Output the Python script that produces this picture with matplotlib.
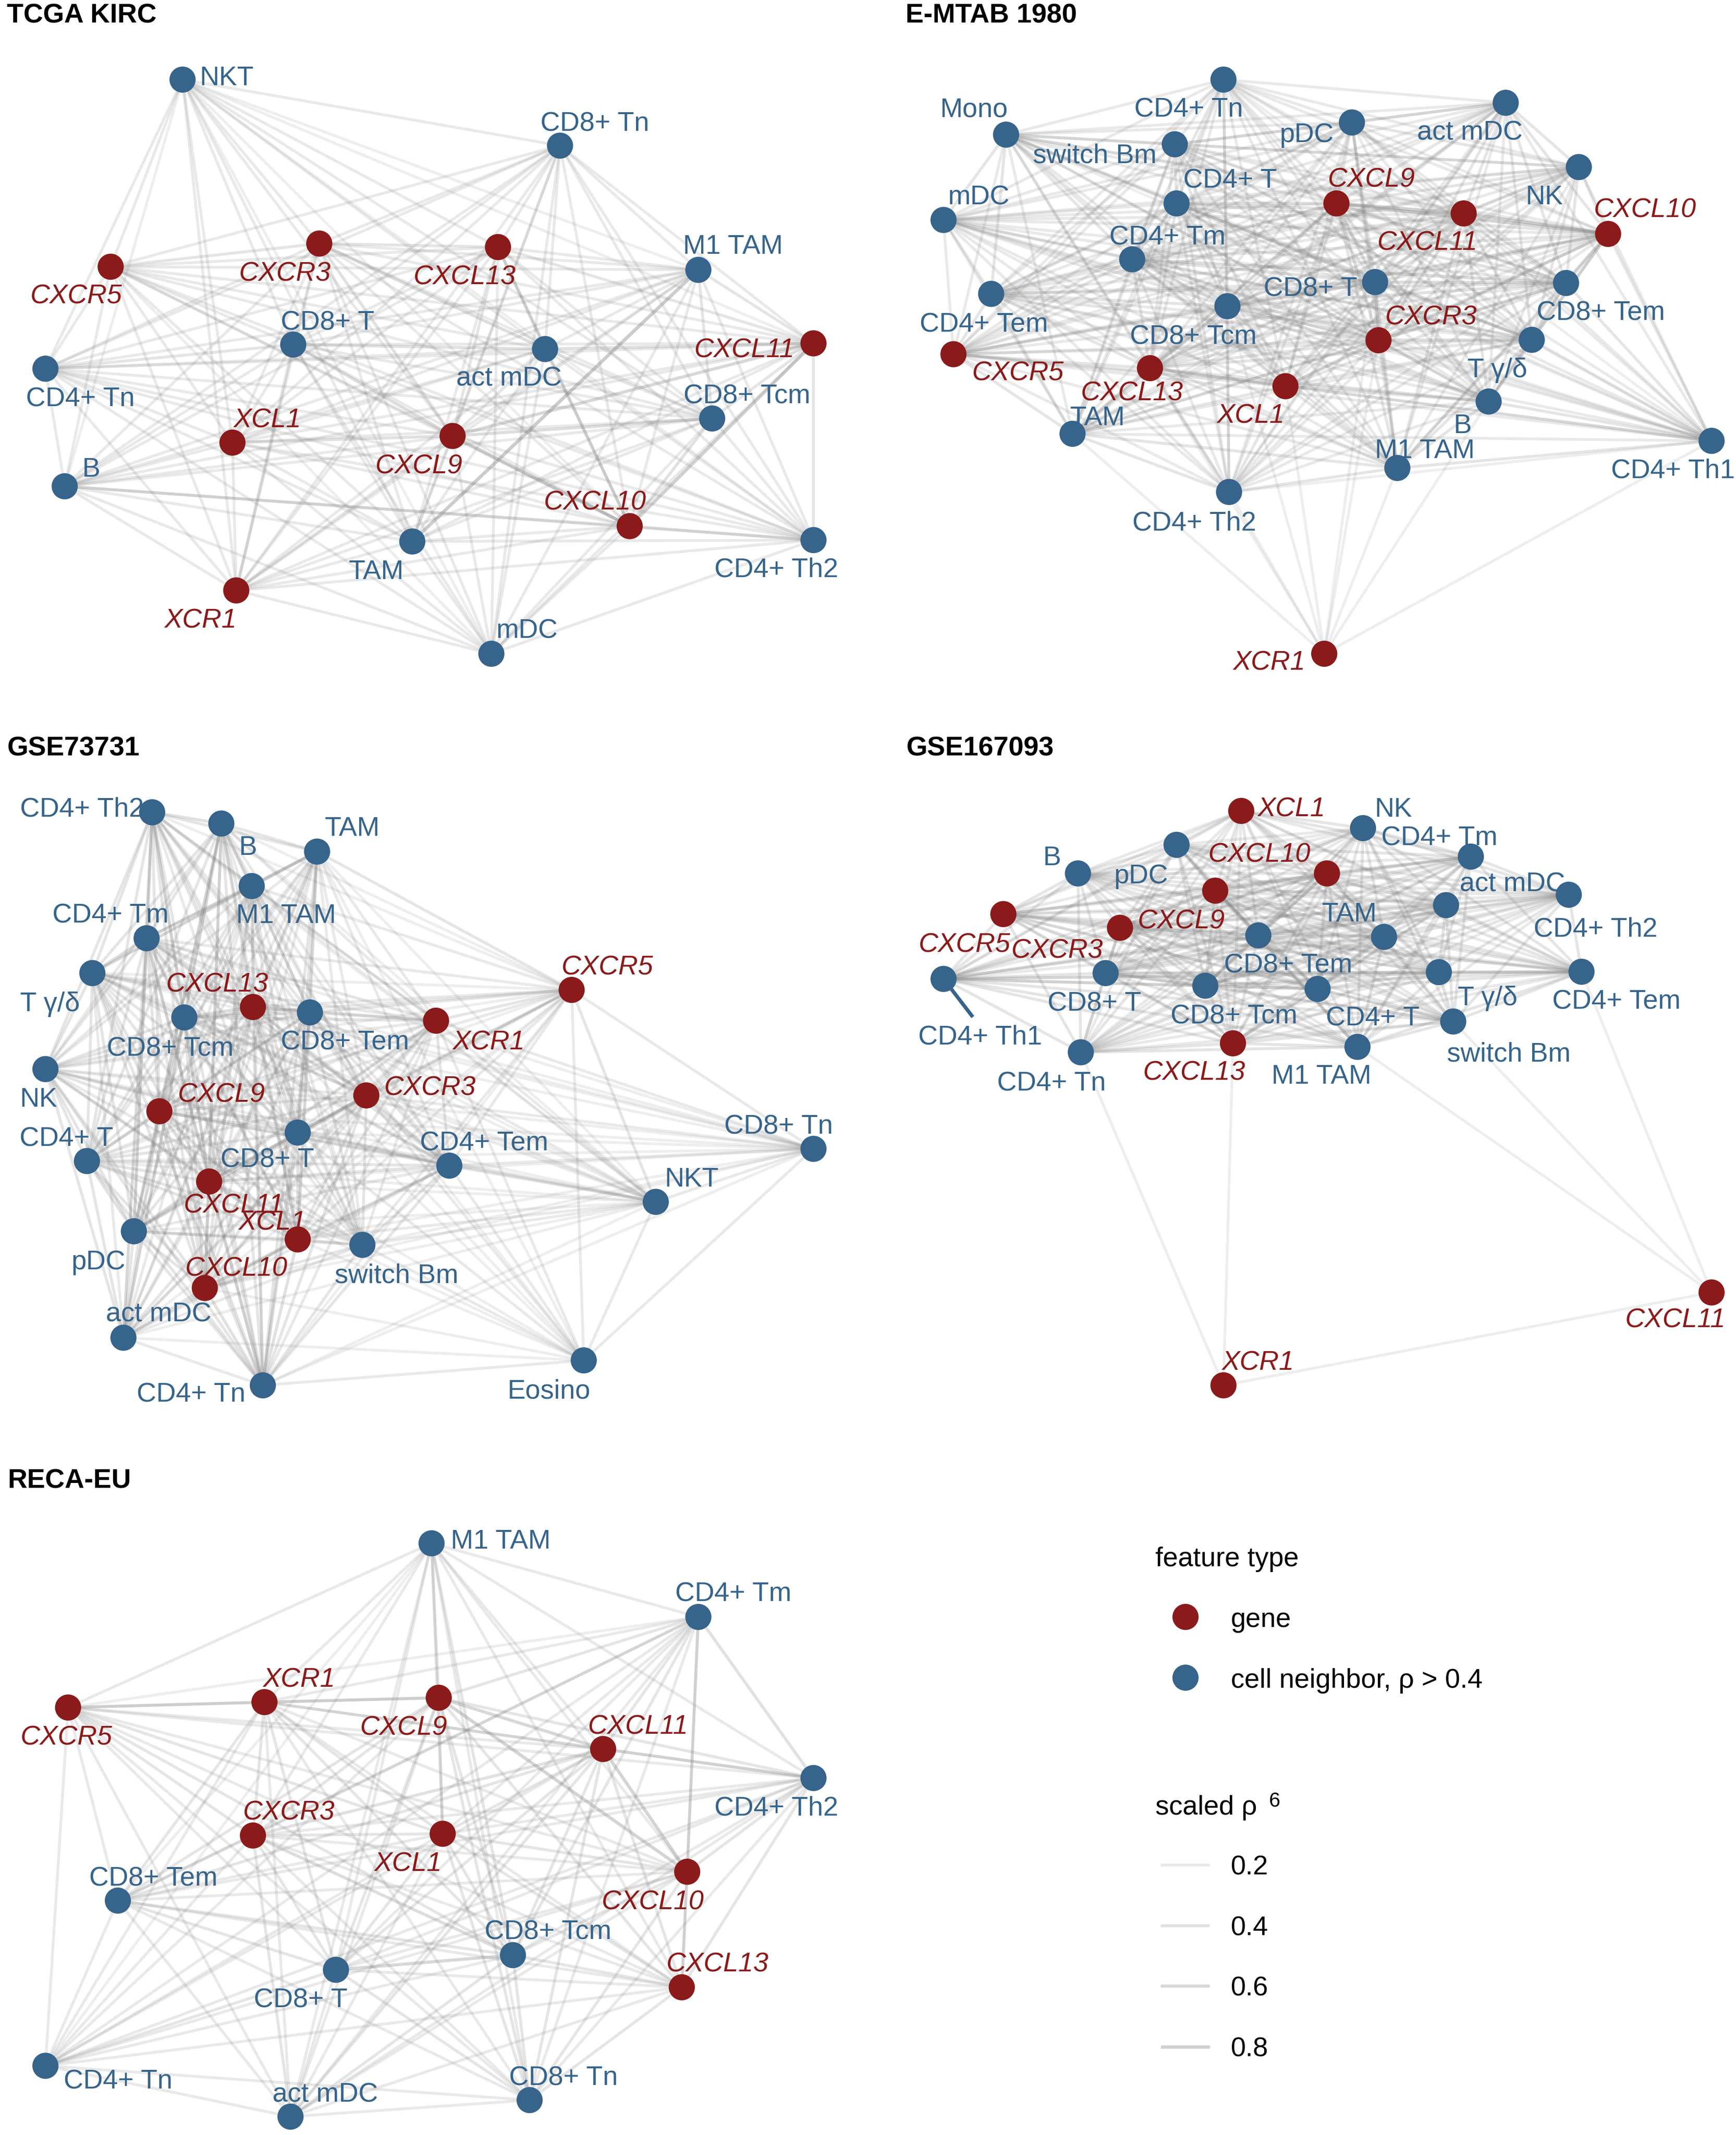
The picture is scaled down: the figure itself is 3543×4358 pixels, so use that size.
import matplotlib
matplotlib.use("Agg")
import matplotlib.pyplot as plt
from matplotlib.collections import LineCollection

plt.rcParams["font.family"] = ["Liberation Sans", "DejaVu Sans"]

# ─────────────────────────────────────────────────────────────────────────────
# Data: layout coordinates of every node and the scaled rho^6 between nodes.
# rho rows: row i holds one digit per later node j > i (digit / 10 = weight,
# 0 = no visible edge).
# ─────────────────────────────────────────────────────────────────────────────

GENES = ["CXCL9", "CXCL10", "CXCL11", "CXCL13", "CXCR3", "CXCR5", "XCL1", "XCR1"]

TCGA_NODES = ["NKT", "CD8+ Tn", "CXCR5", "CXCR3", "CXCL13", "M1 TAM", "CD8+ T",
              "act mDC", "CXCL11", "CD4+ Tn", "CD8+ Tcm", "XCL1", "CXCL9", "B",
              "CXCL10", "TAM", "CD4+ Th2", "XCR1", "mDC"]
TCGA_X = [134.6, 412.9, 81.6, 235.4, 367.2, 514.9, 216.2, 401.9, 599.8, 33.5,
          525.1, 171.4, 333.7, 47.7, 464.3, 304.0, 599.8, 174.2, 362.3]
TCGA_Y = [58.7, 107.4, 196.7, 179.6, 182.2, 199.0, 254.1, 257.4, 253.2, 271.9,
          308.6, 326.4, 321.5, 358.6, 388.0, 399.3, 398.3, 435.4, 482.1]
TCGA_RHO = ["222212212222112121", "22222222222222222", "3222222222222221",
            "322522224222222", "22432223242222", "2232322229222",
            "423225222242", "42323242222", "2326282322", "222222222",
            "25242222", "4222222", "282232", "32322", "2322", "222", "22", "2"]

EMTAB_NODES = ["CD4+ Tn", "act mDC", "Mono", "switch Bm", "pDC", "NK", "CD4+ T",
               "CXCL9", "CXCL11", "CXCL10", "mDC", "CD4+ Tm", "CD4+ Tem",
               "CD8+ T", "CD8+ Tem", "CD8+ Tcm", "CXCR3", "T γ/δ", "CXCR5",
               "CXCL13", "XCL1", "B", "TAM", "M1 TAM", "CD4+ Th1", "CD4+ Th2",
               "XCR1"]
EMTAB_X = [902.1, 1110.2, 741.8, 866.2, 996.8, 1164.1, 867.5, 985.4, 1079.2,
           1185.7, 695.7, 834.8, 730.8, 1013.9, 1154.7, 905.0, 1016.4, 1129.4,
           703.0, 847.9, 947.8, 1097.6, 790.8, 1030.3, 1262.0, 906.2, 976.4]
EMTAB_Y = [58.7, 75.8, 99.3, 106.4, 90.3, 123.2, 150.0, 150.0, 157.4, 172.5,
           162.2, 191.2, 216.7, 208.0, 208.7, 225.8, 250.9, 250.6, 261.2, 271.5,
           284.8, 296.1, 319.9, 345.1, 325.1, 362.8, 482.1]
EMTAB_RHO = ["22222322223222322222222120", "2233233322233233222222220",
             "322222233322222222222120", "32322223222322222222120",
             "3233222232232222222220", "233322233233222222220",
             "43324334333232222220", "8723254353233323220",
             "823255354233323220", "23245354233323320", "3322322222222120",
             "345443333323220", "33332332232220", "5444233323221",
             "444233323320", "53343333231", "5334333221", "233423320",
             "33232220", "4333231", "333231", "23321", "3231", "331", "11", "1"]

GSE73_NODES = ["CD4+ Th2", "B", "TAM", "M1 TAM", "CD4+ Tm", "T γ/δ", "CXCL13",
               "CD8+ Tem", "CD8+ Tcm", "XCR1", "CXCR5", "NK", "CXCL9", "CXCR3",
               "CD4+ T", "CD8+ T", "CD4+ Tem", "CD8+ Tn", "NKT", "CXCL11",
               "XCL1", "pDC", "switch Bm", "CXCL10", "act mDC", "Eosino",
               "CD4+ Tn"]
GSE73_X = [112.2, 163.2, 233.8, 185.6, 108.1, 68.1, 186.5, 228.5, 135.9, 321.5,
           421.5, 33.5, 117.5, 270.1, 64.1, 219.5, 331.3, 599.8, 483.5, 154.2,
           219.5, 98.7, 267.2, 151.0, 91.0, 430.4, 193.8]
GSE73_Y = [599.0, 607.3, 628.0, 653.4, 691.9, 717.6, 742.6, 746.6, 750.3, 752.7,
           730.0, 788.4, 819.5, 807.8, 856.2, 835.2, 859.6, 847.2, 886.3, 871.3,
           914.0, 908.0, 918.0, 949.8, 986.5, 1003.2, 1021.6]
GSE73_RHO = ["43333333213323320132323203", "3333333212323320133323203",
             "532332232222320122222213", "43333222323320132223203",
             "5334323333331133323213", "334213323321133323203",
             "55323333431133323213", "4333333431233333213",
             "323433431133323303", "32332332223222222", "1221222322121121",
             "323321133323303", "34431254335314", "3532233333223",
             "331133433303", "31234333324", "2333233223", "211011021",
             "12121121", "4335314", "334314", "33303", "3223", "314", "12", "2"]

GSE167_NODES = ["XCL1", "NK", "CD4+ Tm", "pDC", "B", "CXCL10", "CXCL9",
                "CD4+ Th2", "act mDC", "CXCR5", "CXCR3", "CD8+ Tem", "TAM",
                "T γ/δ", "CD4+ Tem", "CD4+ Th1", "CD8+ T", "CD8+ Tcm", "CD4+ T",
                "switch Bm", "CD4+ Tn", "CXCL13", "M1 TAM", "XCR1", "CXCL11"]
GSE167_X = [915.2, 1005.0, 1084.5, 867.5, 794.8, 978.4, 896.0, 1156.7, 1066.2,
            739.8, 825.8, 927.8, 1020.5, 1060.9, 1166.1, 695.7, 815.2, 888.7,
            971.5, 1071.5, 796.9, 909.1, 1000.9, 902.1, 1262.0]
GSE167_Y = [598.0, 610.7, 631.7, 623.0, 644.1, 644.1, 656.8, 659.8, 667.5,
            674.1, 684.2, 689.8, 690.9, 716.9, 716.6, 721.9, 717.6, 726.9,
            729.3, 753.3, 776.0, 769.4, 772.0, 1021.6, 953.1]
GSE167_RHO = ["333233222233222222222200", "32233332233332233322300",
              "3243332333332333322300", "333232343322333223200",
              "23223332223332232200", "5332454332444323300",
              "233454332443333300", "32233332233322200", "2334332333323300",
              "332223332232200", "43333543333300", "4332444333300",
              "332344323400", "32333423300", "3333322301", "333333300",
              "54334300", "4333300", "333300", "23301", "3310", "310", "01", "1"]

RECA_NODES = ["M1 TAM", "CD4+ Tm", "CXCR5", "XCR1", "CXCL9", "CXCL11", "CD4+ Th2",
              "CXCR3", "XCL1", "CXCL10", "CD8+ Tem", "CD8+ Tcm", "CXCL13",
              "CD8+ T", "CD4+ Tn", "act mDC", "CD8+ Tn"]
RECA_X = [318.2, 514.9, 50.2, 195.0, 323.5, 444.7, 599.8, 186.5, 326.4, 506.7,
          86.9, 378.2, 502.7, 247.7, 33.5, 214.2, 390.5]
RECA_Y = [1138.1, 1192.4, 1259.2, 1255.2, 1252.0, 1289.8, 1311.2, 1353.6,
          1352.3, 1380.3, 1401.6, 1441.8, 1465.5, 1452.6, 1523.4, 1560.9, 1548.7]
RECA_RHO = ["2223222321322122", "123343232332222", "43223322322222",
            "4323323323222", "633373333223", "44373333233", "2232232222",
            "323523232", "32333223", "2332223", "323222", "36233", "2223",
            "323", "22", "2"]

LEGEND_TYPES = ["gene", "cell neighbor, ρ > 0.4"]
LEGEND_RHO = [0.2, 0.4, 0.6, 0.8]

# ─────────────────────────────────────────────────────────────────────────────
# Label placement (repelled text centres, same units as the layout)
# ─────────────────────────────────────────────────────────────────────────────

TCGA_LX = [167.3, 438.6, 56.3, 210.1, 342.7, 540.6, 241.5, 375.4, 548.8, 59.2,
           550.8, 197.1, 308.9, 67.3, 438.6, 277.4, 572.4, 147.7, 388.4]
TCGA_LY = [55.5, 89.3, 216.7, 200.0, 202.5, 180.0, 236.1, 277.4, 256.4, 292.5,
           290.3, 308.0, 341.9, 344.4, 368.6, 419.9, 418.3, 455.7, 463.4]

EMTAB_LX = [876.4, 1083.7, 718.1, 807.1, 963.3, 1138.8, 907.0, 1011.1, 1052.7,
            1213.0, 721.4, 860.9, 725.5, 966.2, 1180.4, 879.7, 1055.1, 1104.1,
            750.8, 834.8, 922.1, 1078.4, 809.1, 1050.7, 1233.4, 880.5, 935.6]
EMTAB_LY = [79.0, 96.1, 79.0, 112.9, 97.4, 143.5, 131.3, 130.6, 177.4, 153.2,
            143.5, 173.2, 237.7, 211.2, 229.0, 246.7, 232.2, 270.9, 273.5, 288.0,
            304.8, 312.2, 306.4, 330.6, 345.1, 383.8, 487.0]

GSE73_LX = [60.4, 182.8, 259.9, 210.9, 81.6, 36.7, 160.3, 254.2, 125.7, 360.3,
            448.0, 28.6, 163.2, 317.0, 49.0, 197.1, 357.0, 574.1, 510.0, 172.6,
            200.7, 72.6, 292.5, 174.2, 117.1, 404.7, 140.8]
GSE73_LY = [595.0, 623.4, 609.0, 673.5, 673.1, 738.3, 724.3, 767.0, 771.7,
            767.0, 711.6, 808.8, 805.4, 800.4, 837.9, 853.6, 841.2, 828.8, 867.9,
            887.0, 899.7, 928.7, 938.8, 933.7, 967.5, 1024.0, 1026.6]

GSE167_LX = [951.9, 1027.4, 1061.3, 841.4, 775.7, 928.7, 871.1, 1176.3, 1115.1,
             711.2, 779.7, 949.9, 994.8, 1096.8, 1191.8, 722.6, 807.1, 909.9,
             1012.3, 1112.3, 775.3, 880.5, 974.4, 927.4, 1235.5]
GSE167_LY = [595.0, 595.0, 616.3, 644.1, 630.7, 628.4, 677.5, 683.2, 650.1,
             694.9, 699.2, 710.2, 672.5, 734.3, 737.0, 762.7, 738.3, 747.6,
             749.3, 775.4, 797.1, 789.4, 792.1, 1003.2, 971.5]
GSE167_SEGMENTS = {"CD4+ Th1": (717.3, 750.0)}

RECA_LX = [369.2, 540.6, 49.0, 220.3, 297.8, 470.4, 572.4, 213.0, 300.7, 481.4,
           113.0, 403.9, 529.2, 221.5, 86.9, 239.9, 415.3]
RECA_LY = [1134.8, 1173.7, 1279.6, 1236.8, 1272.4, 1271.4, 1331.6, 1334.9,
           1372.7, 1400.7, 1383.5, 1423.0, 1446.7, 1473.0, 1533.2, 1542.8, 1530.6]

# ─────────────────────────────────────────────────────────────────────────────
# Styling
# ─────────────────────────────────────────────────────────────────────────────

W_UNITS = 1280.0
H_UNITS = W_UNITS * 4358 / 3543
RED = "#8B1A1A"
BLUE = "#36648B"
FS = 13.3
CAP_HALF = 7.2
NODE_S = 164


def edge_style(w):
    return (0.5, 0.5, 0.5, 0.10 + 0.335 * w), 1.3 + 0.4 * w


def unit_axes(fig, x0, y0, x1, y1):
    ax = fig.add_axes([x0 / W_UNITS, 1 - y1 / H_UNITS,
                       (x1 - x0) / W_UNITS, (y1 - y0) / H_UNITS])
    ax.set_xlim(x0, x1)
    ax.set_ylim(y1, y0)
    ax.set_axis_off()
    return ax


def draw_network(ax, title, title_xy, nodes, xs, ys, rho_rows, lx, ly, segments=None):
    edges = []
    for i, row in enumerate(rho_rows):
        for k, ch in enumerate(row):
            j = i + 1 + k
            if j >= len(nodes) or ch == "0":
                continue
            edges.append((int(ch) / 10, i, j))
    edges.sort()
    segs, cols, lws = [], [], []
    for w, i, j in edges:
        c, lw = edge_style(w)
        segs.append([(xs[i], ys[i]), (xs[j], ys[j])])
        cols.append(c)
        lws.append(lw)
    ax.add_collection(LineCollection(segs, colors=cols, linewidths=lws,
                                     capstyle="butt", zorder=1))

    for name, (ex, ey) in (segments or {}).items():
        i = nodes.index(name)
        ax.plot([xs[i], ex], [ys[i], ey], color=BLUE, lw=1.8, zorder=2,
                solid_capstyle="butt")

    colors = [RED if n in GENES else BLUE for n in nodes]
    ax.scatter(xs, ys, s=NODE_S, c=colors, linewidths=0, zorder=3, clip_on=False)

    for n, tx, ty in zip(nodes, lx, ly):
        gene = n in GENES
        ax.text(tx, ty + CAP_HALF, n, ha="center", va="baseline", fontsize=FS,
                color=RED if gene else BLUE, style="italic" if gene else "normal",
                zorder=4, clip_on=False)

    ax.text(title_xy[0], title_xy[1], title, ha="left", va="baseline",
            fontsize=FS, fontweight="bold", color="black", clip_on=False)


fig = plt.figure(figsize=(3543 / 300, 4358 / 300), dpi=300)
fig.patch.set_facecolor("white")

draw_network(unit_axes(fig, 0, 0, 640, 522), "TCGA KIRC", (5.0, 16.8),
             TCGA_NODES, TCGA_X, TCGA_Y, TCGA_RHO, TCGA_LX, TCGA_LY)
draw_network(unit_axes(fig, 640, 0, 1280, 522), "E-MTAB 1980", (667.5, 16.8),
             EMTAB_NODES, EMTAB_X, EMTAB_Y, EMTAB_RHO, EMTAB_LX, EMTAB_LY)
draw_network(unit_axes(fig, 0, 530, 640, 1052), "GSE73731", (5.5, 557.2),
             GSE73_NODES, GSE73_X, GSE73_Y, GSE73_RHO, GSE73_LX, GSE73_LY)
draw_network(unit_axes(fig, 640, 530, 1280, 1052), "GSE167093", (668.4, 557.2),
             GSE167_NODES, GSE167_X, GSE167_Y, GSE167_RHO, GSE167_LX, GSE167_LY,
             segments=GSE167_SEGMENTS)
draw_network(unit_axes(fig, 0, 1062, 640, H_UNITS), "RECA-EU", (5.5, 1097.3),
             RECA_NODES, RECA_X, RECA_Y, RECA_RHO, RECA_LX, RECA_LY)

# legend
leg = unit_axes(fig, 640, 1062, 1280, H_UNITS)
leg.text(852.0, 1155.1, "feature type", ha="left", va="baseline", fontsize=FS)
for k, (lab, col) in enumerate(zip(LEGEND_TYPES, [RED, BLUE])):
    y = 1192.2 + 44.8 * k
    leg.scatter([873.8], [y], s=NODE_S, c=col, linewidths=0, zorder=3)
    leg.text(907.4, y + 7.5, lab, ha="left", va="baseline", fontsize=FS)

leg.text(852.0, 1338.3, "scaled ρ", ha="left", va="baseline", fontsize=FS)
leg.text(935.8, 1332.4, "6", ha="left", va="baseline", fontsize=FS * 0.75)
for k, w in enumerate(LEGEND_RHO):
    y = 1375.3 + 44.7 * k
    c, lw = edge_style(w)
    leg.plot([856, 892], [y, y], color=c, lw=lw, solid_capstyle="butt")
    leg.text(907.4, y + 7.1, f"{w:.1f}", ha="left", va="baseline", fontsize=FS)

fig.savefig("out.png", dpi=300, facecolor="white")
